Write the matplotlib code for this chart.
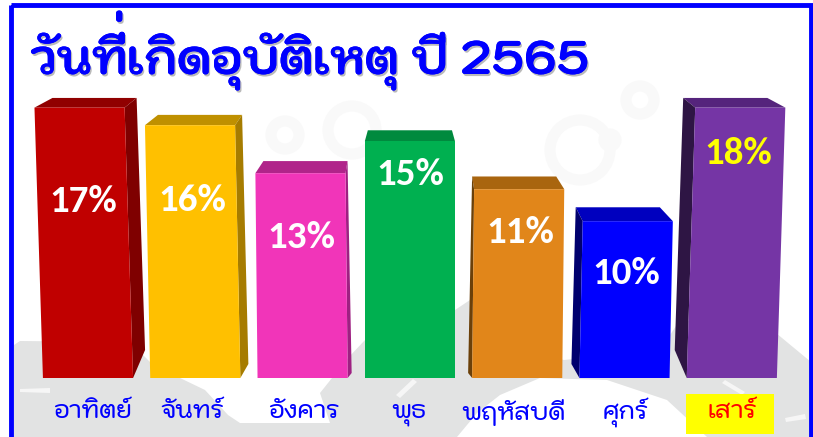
import matplotlib
matplotlib.use("Agg")
import matplotlib.pyplot as plt
import matplotlib.patheffects as pe
from matplotlib.patches import Circle, Polygon, Rectangle

days = ["อาทิตย์", "จันทร์", "อังคาร", "พุธ", "พฤหัสบดี", "ศุกร์", "เสาร์"]
percent = [17, 16, 13, 15, 11, 10, 18]
# heights as drawn in the picture, they do not follow the printed labels exactly
bar_heights = [16.9, 15.8, 12.8, 14.8, 11.8, 9.8, 16.9]

front_colors = ["#C00000", "#FFC000", "#F135B9", "#00B050", "#E1861A", "#0000FF", "#7535A5"]
top_colors = ["#900000", "#BF9000", "#B0248A", "#008A3E", "#A9650F", "#0000BF", "#55247C"]
side_colors = ["#7F0000", "#A67C00", "#9E2082", "#007A36", "#6B4009", "#00006E", "#2E1544"]

title = "วันที่เกิดอุบัติเหตุ ปี 2565"

thai_fonts = ["Kodchasan", "Kanit", "Noto Sans Thai", "DejaVu Sans"]
num_fonts = ["Carlito", "Open Sans", "DejaVu Sans"]

W, H = 813, 437
fig = plt.figure(figsize=(W / 100, H / 100), dpi=100, facecolor="white")

# backdrop in pixel coordinates
bg = fig.add_axes([0, 0, 1, 1])
bg.set_xlim(0, W)
bg.set_ylim(H, 0)
bg.axis("off")

gray = "#E2E3E3"
bg.add_patch(Polygon([(14, 437), (14, 345), (20, 341), (130, 342), (150, 362), (180, 378),
                      (205, 390), (228, 415), (240, 423), (330, 423), (320, 393), (348, 358),
                      (365, 340), (455, 310), (470, 300), (480, 340), (564, 360), (660, 350),
                      (680, 320), (776, 333), (811, 362), (811, 437), (707, 437), (667, 400),
                      (607, 380), (540, 378), (500, 395), (477, 413), (457, 437)],
                     fc=gray, ec="none"))
for dash in [[(20, 389), (50, 388), (50, 393), (20, 392)],
             [(396, 395), (413, 379), (417, 382), (400, 398)],
             [(725, 380), (745, 392), (742, 395), (722, 383)],
             [(785, 418), (805, 414), (806, 419), (786, 422)]]:
    bg.add_patch(Polygon(dash, fc="#F6F6F6", ec="none"))
for cx, cy, r in [(285, 135, 14), (352, 130, 24), (580, 150, 30), (640, 100, 14), (610, 140, 6)]:
    bg.add_patch(Circle((cx, cy), r, fc="none", ec="#F9F9F9", lw=8))

# blue frame, runs off the bottom of the picture
bg.add_patch(Rectangle((10.5, 4.5), 800.5, 440, fc="none", ec="#0000FF", lw=3.5))

shadow = [pe.withSimplePatchShadow(offset=(1, -1.5), shadow_rgbFace="#777777", alpha=0.5), pe.Normal()]
bg.text(30, 74, title, family=thai_fonts, fontsize=34, fontweight="bold", color="#0000FF",
        ha="left", va="baseline", path_effects=shadow)
# no Thai shaping in matplotlib: the mai ek sinks into the sara ii, lift a copy above it
bg.text(112, 52, "\u00a0\u0e48", family=thai_fonts, fontsize=34, fontweight="bold", color="#0000FF",
        ha="left", va="baseline", path_effects=shadow)

# bars: 1 unit of y is 16 px, 1 unit of x is 107.3 px, baseline at y = 378 px
ax = fig.add_axes([0, 0, 1, 1], facecolor="none")
ax.set_xlim(-88 / 107.3, (W - 88) / 107.3)
ax.set_ylim((378 - H) / 16, 378 / 16)
ax.axis("off")

half = 0.42
px = 1 / 107.3
pos = list(range(len(days)))

for i, h in zip(pos, bar_heights):
    off = i - 3
    lean = 0.167 * off * h * px
    depth = (9 + (18 - h) * 0.6) / 16
    left = i - half + lean
    right = i + half + lean
    # top face
    back_l = left + (-5 * off + 3) * px
    back_r = right + (-5 * off - 3) * px
    ax.add_patch(Polygon([(left, h), (back_l, h + depth), (back_r, h + depth), (right, h)],
                         fc=top_colors[i], ec="none"))
    # side face turned towards the middle of the picture
    if off != 0:
        edge = -1 if off > 0 else 1
        x0 = (i + edge * half, left if off > 0 else right)
        xb = i + edge * half + edge * 4 * abs(off) * px
        xt = back_l if off > 0 else back_r
        rise = {1: 5, 2: 14, 3: 28}[abs(off)] / 16
        ax.add_patch(Polygon([(x0[0], 0), (xb, rise), (xt, h + depth), (x0[1], h)],
                             fc=side_colors[i], ec="none"))
    ax.add_patch(Polygon([(i - half, 0), (i + half, 0), (right, h), (left, h)],
                         fc=front_colors[i], ec="none"))

# labels sit where the source put them by hand
label_y = [11.0, 11.1, 8.8, 12.7, 9.1, 6.5, 14.0]
label_dx = [-5, -3, -1, 0, 3, 2, 6]
for i, v, y, dx in zip(pos, percent, label_y, label_dx):
    ax.text(i + dx * px, y, f"{v}%", family=num_fonts, fontsize=28, fontweight="bold",
            color="#FFFF00" if i == 6 else "white", ha="center", va="center")

day_dx = [4, -3, 1, -1, -4, 1, 1]
for i, d, dx in zip(pos, days, day_dx):
    ax.text(i + dx * px, -35 / 16, d, family=thai_fonts, fontsize=17.2, fontweight="medium",
            color="#FF0000" if i == 6 else "#0000FF", ha="center", va="center")

ax.add_patch(Rectangle((6 - 46 * px, -56 / 16), 88 * px, 40 / 16, fc="#FFFF00", ec="none", zorder=0.5))

fig.savefig("out.png", dpi=100)
